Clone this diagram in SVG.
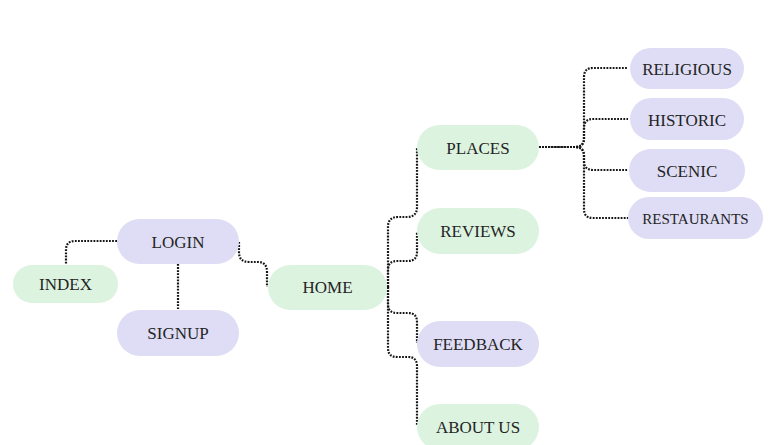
<svg xmlns="http://www.w3.org/2000/svg" width="782" height="445" viewBox="0 0 782 445">
<style>
.g{fill:#dcf3e0}
.p{fill:#deddf5}
text{font-family:"Liberation Serif","Times New Roman",serif;font-size:17px;fill:#242424;text-anchor:middle}
.c{fill:none;stroke:#151515;stroke-width:2.2;stroke-dasharray:1.8 1.3}
</style>
<rect width="782" height="445" fill="#ffffff"/>
<g id="connectors">
<path class="c" d="M117,241 H75 Q66,241 66,250 V264"/>
<path class="c" d="M178,264 V309"/>
<path class="c" d="M239,242 V252 Q239,262 249,262 H258 Q267,262 267,272 V287"/>
<path class="c" d="M388,287 V227 Q388,217 398,217 H407 Q417,217 417,207 V147"/>
<path class="c" d="M388,287 V270 Q388,261 397,261 H408 Q417,261 417,252 V232"/>
<path class="c" d="M388,287 V304 Q388,313 397,313 H408 Q417,313 417,322 V343"/>
<path class="c" d="M388,287 V348 Q388,357 397,357 H408 Q417,357 417,366 V426"/>
<path class="c" d="M539,147 H575 Q584,147 584,138 V77 Q584,68 593,68 H628"/>
<path class="c" d="M539,147 H575 Q584,147 584,138 V128 Q584,119 593,119 H628"/>
<path class="c" d="M539,147 H575 Q584,147 584,156 V161 Q584,170 593,170 H628"/>
<path class="c" d="M539,147 H575 Q584,147 584,156 V209 Q584,218 593,218 H628"/>
</g>
<g id="index"><rect class="g" x="13" y="265" width="105" height="38" rx="19"/><text x="65.5" y="290">INDEX</text></g>
<g id="login"><rect class="p" x="117" y="219" width="122" height="45" rx="22.5"/><text x="178" y="248">LOGIN</text></g>
<g id="signup"><rect class="p" x="117" y="310" width="122" height="46" rx="23"/><text x="178" y="339">SIGNUP</text></g>
<g id="home"><rect class="g" x="268" y="265" width="119" height="45" rx="22.5"/><text x="327.5" y="293">HOME</text></g>
<g id="places"><rect class="g" x="417" y="125" width="122" height="45" rx="22.5"/><text x="478" y="154">PLACES</text></g>
<g id="reviews"><rect class="g" x="417" y="208" width="122" height="46" rx="23"/><text x="478" y="237">REVIEWS</text></g>
<g id="feedback"><rect class="p" x="417" y="321" width="122" height="46" rx="23"/><text x="478" y="350">FEEDBACK</text></g>
<g id="aboutus"><rect class="g" x="417" y="404" width="122" height="46" rx="23"/><text x="478" y="433">ABOUT US</text></g>
<g id="religious"><rect class="p" x="630" y="48" width="114" height="41" rx="20.5"/><text x="687" y="75">RELIGIOUS</text></g>
<g id="historic"><rect class="p" x="630" y="98" width="114" height="42" rx="21"/><text x="687" y="126">HISTORIC</text></g>
<g id="scenic"><rect class="p" x="629" y="149" width="116" height="43" rx="21.5"/><text x="687" y="177">SCENIC</text></g>
<g id="restaurants"><rect class="p" x="628" y="197" width="135" height="42" rx="21"/><text x="695.5" y="224" style="font-size:15px">RESTAURANTS</text></g>
</svg>
